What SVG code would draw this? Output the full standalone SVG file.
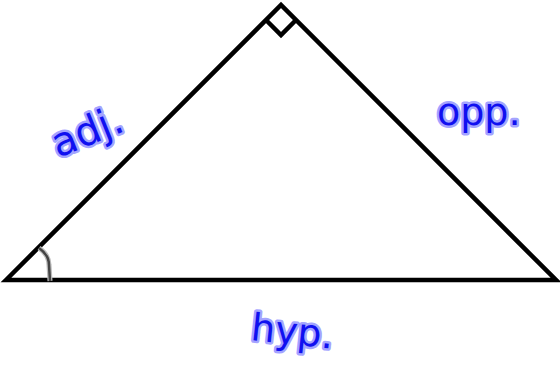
<svg xmlns="http://www.w3.org/2000/svg" width="560" height="367" viewBox="0 0 560 367">
<style>
.edge{fill:none;stroke:#000;stroke-width:4.5;stroke-linejoin:miter}
.lbl{font-family:"DejaVu Sans","Liberation Sans",sans-serif;fill:#1010f0;stroke:#7b7bff;stroke-width:5;stroke-opacity:0.7;paint-order:stroke;stroke-linejoin:round}
</style>
<rect width="560" height="367" fill="#fff"/>
<g id="triangle">
<path class="edge" d="M6,280 L281,5 L556,280 Z"/>
</g>
<g id="right-angle">
<path class="edge" d="M266,20 L281,35 L296,20"/>
</g>
<g id="angle-mark">
<path d="M39,248 Q49,255 49,265 L50,281" fill="none" stroke="#bbb" stroke-width="5"/>
<path d="M39,248 Q49,255 49,265 L50,281" fill="none" stroke="#444" stroke-width="2.5"/>
</g>
<g id="labels">
<text class="lbl" x="58" y="158" font-size="40" transform="rotate(-22 58 158)">adj.</text>
<text class="lbl" x="437" y="125" font-size="38">opp.</text>
<text class="lbl" x="250" y="340" font-size="38" transform="rotate(6 250 340)">hyp.</text>
</g>
</svg>
